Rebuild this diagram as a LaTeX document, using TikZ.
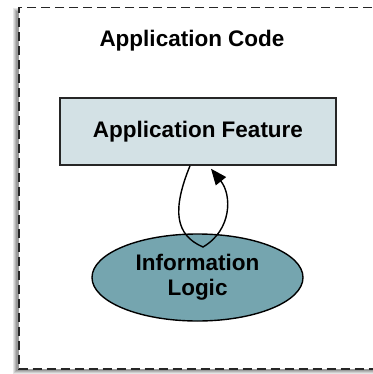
\documentclass[tikz,border=0pt]{standalone}
\usepackage{fontspec}
\setmainfont{Liberation Sans}
\usetikzlibrary{shapes.geometric,arrows.meta}
\definecolor{featurefill}{HTML}{D3E1E5}
\definecolor{logicfill}{HTML}{75A5AF}
\tikzset{
  labeltext/.style={font=\fontsize{22.5}{25}\selectfont\bfseries, text=black},
  featurebox/.style={draw=black!85, line width=1.5pt, fill=featurefill,
    minimum width=276pt, minimum height=67pt, inner sep=0pt, labeltext},
  logicoval/.style={ellipse, draw=black, line width=1.4pt, fill=logicfill,
    minimum width=211pt, minimum height=87pt, inner sep=0pt, align=center, labeltext},
  frameline/.style={draw=black!85, line width=1.8pt, dash pattern=on 9pt off 5pt},
  loopline/.style={draw=black, line width=1.4pt, -{Triangle[length=16pt, width=13pt]}}
}
\begin{document}
\begin{tikzpicture}[x=1pt, y=-1pt]
  \useasboundingbox (0,0) rectangle (372,374);
  % soft shadow under the outer frame
  \foreach \d/\o in {0/0.10, 1/0.10, 2/0.12, 3/0.14} {
    \fill[black, opacity=\o] (19-6+\d, 7.5+1+\d) rectangle (400, 369+5-\d);
  }
  % outer frame
  \fill[white] (19,7.5) rectangle (400,369);
  \draw[frameline] (400,7.5) -- (19,7.5) -- (19,369) -- (400,369);
  % title
  \node[labeltext, anchor=base] (title) at (192,46.7) {Application Code};
  % feature box and logic oval
  \node[featurebox] (feature) at (198,131.5) {Application Feature};
  \node[logicoval] (logic) at (197.5,277.5) {Information\\Logic};
  % loop from the feature through the logic and back
  \coordinate (loopout) at ([xshift=-8pt]feature.south);
  \coordinate (loopin) at ([xshift=13pt, yshift=-3pt]feature.south);
  \coordinate (looptip) at (203,247);
  \draw[loopline] (loopout) .. controls (172,210) and (175,235) .. (looptip)
    .. controls (232,230) and (232,195) .. (loopin);
\end{tikzpicture}
\end{document}
